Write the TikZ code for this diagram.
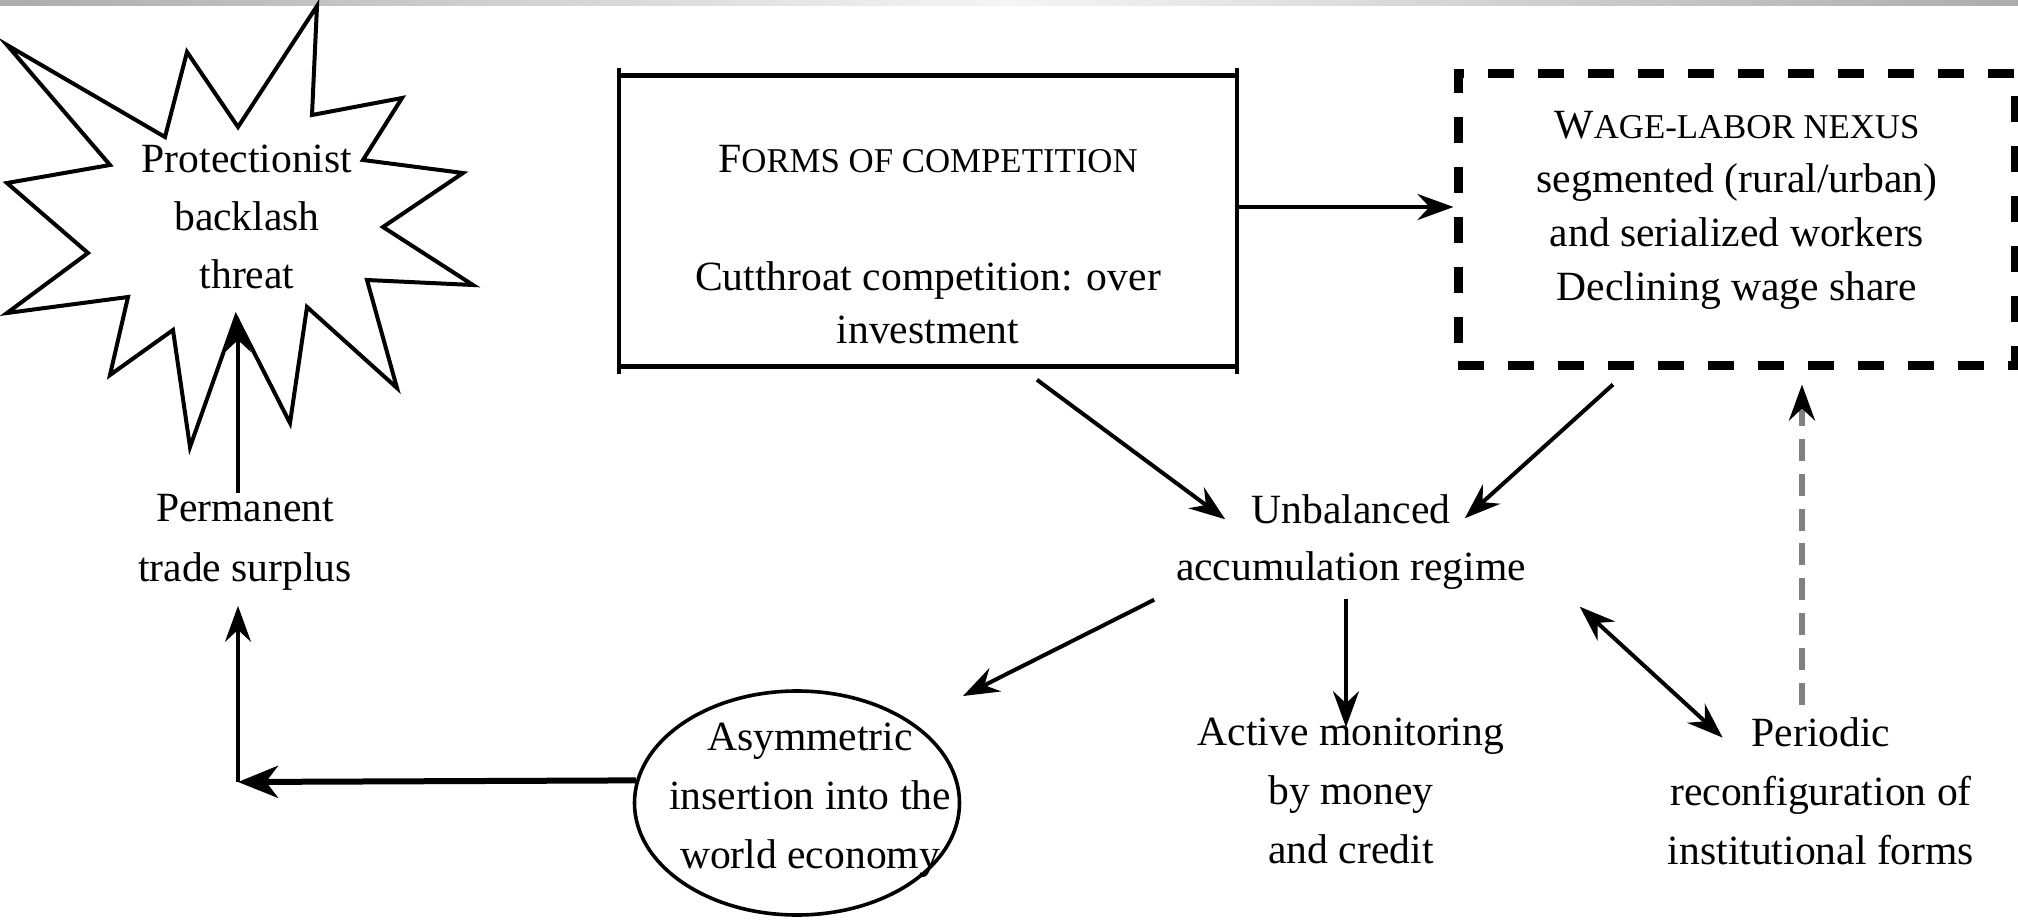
\documentclass[tikz,border=0pt]{standalone}
\usepackage{fontspec}
\setmainfont{Liberation Serif}
\usetikzlibrary{arrows.meta,calc,shapes.geometric}
\newcommand{\fsc}[2]{#1{\fontsize{8.7pt}{8.7pt}\selectfont #2}}
\begin{document}
\begin{tikzpicture}[x=0.25pt, y=-0.25pt,
  >={Stealth[length=9pt,width=6.5pt,inset=3pt]},
  txt/.style={align=center, inner sep=0pt, font=\fontsize{10.4pt}{14.75pt}\selectfont},
  arr/.style={line width=1pt, ->},
  grayarr/.style={line width=1.3pt, gray, dash pattern=on 5.5pt off 3.2pt,
     -{Stealth[length=9pt,width=6.5pt,inset=3pt,color=black]}},
  frameh/.style={line width=1.3pt},
  framev/.style={line width=0.9pt}]
\useasboundingbox (0,0) rectangle (2018,923);
\shade[left color=gray!65, right color=gray!65, middle color=gray!8] (0,0) rectangle (2018,5);

% star
\draw[line width=1pt, line join=miter] (317,6) -- (312,115) -- (402,98) -- (363,160) -- (463,173)
  -- (383,227) -- (473,285) -- (367,280) -- (397,388) -- (307,307) -- (290,423) -- (236,317)
  -- (190,447) -- (173,330) -- (110,375) -- (128,297) -- (7,313) -- (88,253) -- (7,183)
  -- (110,165) -- (7,45) -- (165,137) -- (187,52) -- (238,127) -- cycle;
\node[txt, font=\fontsize{10.4pt}{14.6pt}\selectfont] (prot) at (247,217) {Protectionist\\backlash\\threat};

\node[txt, font=\fontsize{10.4pt}{15pt}\selectfont] (surplus) at (245,542) {Permanent\\trade surplus};
\coordinate (starin) at (238,316);
\coordinate (corner) at (238,782);
\draw[arr, line width=0.8pt] (surplus.north -| starin) -- (starin);

\node[ellipse, draw, line width=0.9pt, minimum width=81.25pt, minimum height=56pt, inner sep=0pt] (asym) at (797,803) {};
\node[txt] (asymtxt) at (810,800) {Asymmetric\\insertion into the\\world economy};
\draw[line width=1.5pt, -{Stealth[length=10pt,width=8pt,inset=3pt]}] (asym.172) -- (corner);
\draw[arr, line width=0.8pt, shorten >=3.75pt] (corner) -- (surplus.south -| corner);

% forms of competition
\node[minimum width=154pt, minimum height=72.5pt, inner sep=0pt] (forms) at (928,221) {};
\draw[frameh] (forms.north west) -- (forms.north east);
\draw[frameh] (forms.south west) -- (forms.south east);
\draw[framev] ($(forms.north west)+(0,-7)$) -- ($(forms.south west)+(0,7)$);
\draw[framev] ($(forms.north east)+(0,-7)$) -- ($(forms.south east)+(0,7)$);
\node[txt, font=\fontsize{10.4pt}{13.25pt}\selectfont] (formstxt) at (928,245)
  {\fsc{F}{ORMS OF COMPETITION}\\[16.25pt]Cutthroat competition: over\\investment};

% wage-labor nexus
\node[draw, line width=2.25pt, dash pattern=on 6.4pt off 6.1pt, minimum width=139.25pt,
  minimum height=73pt, inner sep=0pt] (wage) at (1736.5,219) {};
\node[txt, font=\fontsize{10.4pt}{13.5pt}\selectfont] (wagetxt) at (1737,210)
  {\fsc{W}{AGE-LABOR NEXUS}\\segmented (rural/urban)\\and serialized workers\\Declining wage share};

\draw[arr, line width=1.2pt] ($(forms.east)+(0,-14)$) -- ($(wage.west)+(0,-12)$);

\node[txt, font=\fontsize{10.4pt}{14.25pt}\selectfont] (unb) at (1351,542.5) {Unbalanced\\accumulation regime};
\node[txt] (active) at (1351,791) {Active monitoring\\by money\\and credit};
\node[txt] (periodic) at (1821,791) {Periodic\\reconfiguration of\\institutional forms};

\draw[arr] ($(forms.south)+(109,13)$) -- ($(unb.north west)+(50,25)$);
\draw[arr] ($(wage.south)+(-123.5,15)$) -- ($(unb.north east)+(-62,24)$);
\draw[arr] ($(unb.south west)+(-21,9)$) -- ($(asym.center)+(166,-107)$);
\draw[arr] ($(unb.south)+(-5,8)$) -- ($(active.north)+(-5,10)$);
\draw[line width=1pt, <->] ($(unb.south east)+(53,16)$) -- ($(periodic.north west)+(55.5,21)$);
\draw[grayarr] ($(periodic.north)+(-19,-12)$) -- ($(wage.south)+(65.5,15)$);
\end{tikzpicture}
\end{document}
